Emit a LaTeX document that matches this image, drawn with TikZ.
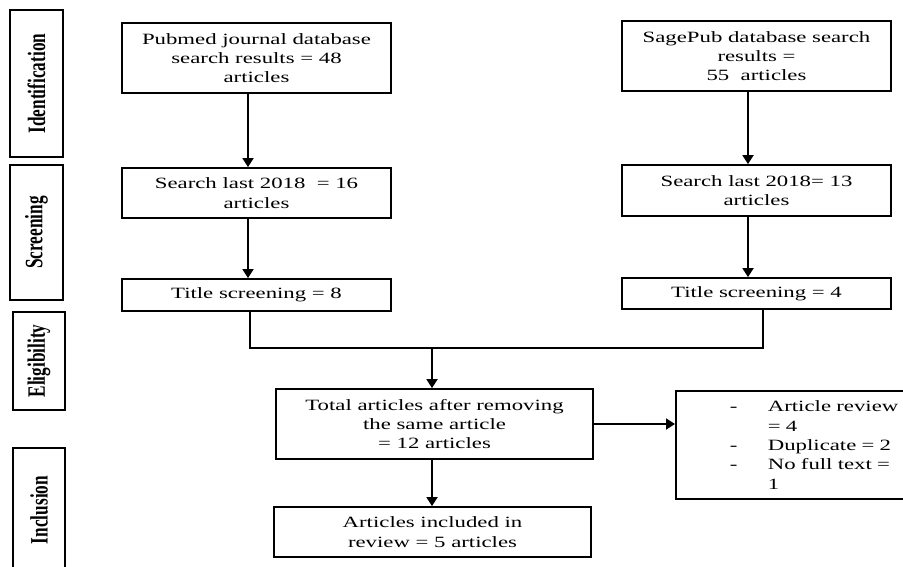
\documentclass[tikz,border=0pt]{standalone}
\usepackage{fontspec}
\setmainfont{Liberation Serif}[FakeStretch=1.45]
\newfontfamily\stagefont{Liberation Serif}[FakeStretch=0.69]
\usepackage{tikz}
\usetikzlibrary{arrows.meta,positioning,calc}

\begin{document}
\begin{tikzpicture}[
  x=1pt, y=-1pt, >={Triangle[length=9pt,width=11pt]}, line width=1.8pt,
  font=\fontsize{15.7}{19.3}\selectfont,
  stage/.style={draw, inner sep=0pt, minimum width=53pt, rotate=90, font=\stagefont\bfseries\fontsize{25}{28}\selectfont},
  box/.style={draw, align=center, inner sep=0pt, minimum width=269pt},
  wide/.style={draw, align=center, inner sep=0pt, minimum width=317pt},
]
\useasboundingbox (0,0) rectangle (903,566);
\node[stage, minimum height=53pt, minimum width=147pt] (ident) at (36.5,83.5) {Identification};
\node[stage, minimum height=53pt, minimum width=135pt] (screen) at (36.5,232.5) {Screening};
\node[stage, minimum height=52pt, minimum width=98pt] (elig) at (39,361) {Eligibility};
\node[stage, minimum height=52pt, minimum width=124pt] (incl) at (39,510) {Inclusion};

\node[box, minimum height=70pt] (pubmed) at (256.5,58) {Pubmed journal database\\search results = 48\\articles};
\node[box, minimum height=50pt] (pubyear) at (256.5,193) {Search last 2018 \ = 16\\articles};
\node[box, minimum height=32pt] (pubtitle) at (256.5,295) {Title screening = 8};
\node[box, minimum height=70pt] (sage) at (756.5,56) {SagePub database search\\results =\\55 \ articles};
\node[box, minimum height=51pt] (sageyear) at (756.5,190.5) {Search last 2018= 13\\articles};
\node[box, minimum height=31pt] (sagetitle) at (756.5,293.5) {Title screening = 4};
\node[wide, minimum height=70pt] (total) at (434.5,424) {Total articles after removing\\the same article\\= 12 articles};
\node[draw, anchor=west, align=left, text width=180pt, inner xsep=54pt, inner ysep=0pt, minimum height=108pt] (excl) at (675,445)
  {\makebox[38pt][l]{-}Article review\\\makebox[38pt]{}= 4\\\makebox[38pt][l]{-}Duplicate = 2\\\makebox[38pt][l]{-}No full text =\\\makebox[38pt]{}1};
\node[wide, minimum height=50pt] (final) at (432.5,532) {Articles included in\\review = 5 articles};

\coordinate (merge) at (432,348);
\draw[->] ([xshift=-8.5pt]pubmed.south) -- ([xshift=-8.5pt]pubyear.north);
\draw[->] ([xshift=-8.5pt]pubyear.south) -- ([xshift=-8.5pt]pubtitle.north);
\draw[->] ([xshift=-8.5pt]sage.south) -- ([xshift=-8.5pt]sageyear.north);
\draw[->] ([xshift=-8.5pt]sageyear.south) -- ([xshift=-8.5pt]sagetitle.north);
\draw ([xshift=-6.5pt]pubtitle.south) |- (merge) -| ([xshift=6.5pt]sagetitle.south);
\draw[->] (merge) -- (merge |- total.north);
\draw[->] (total.east) -- (total.east -| excl.west);
\draw[->] (merge |- total.south) -- (merge |- final.north);
\end{tikzpicture}
\end{document}
